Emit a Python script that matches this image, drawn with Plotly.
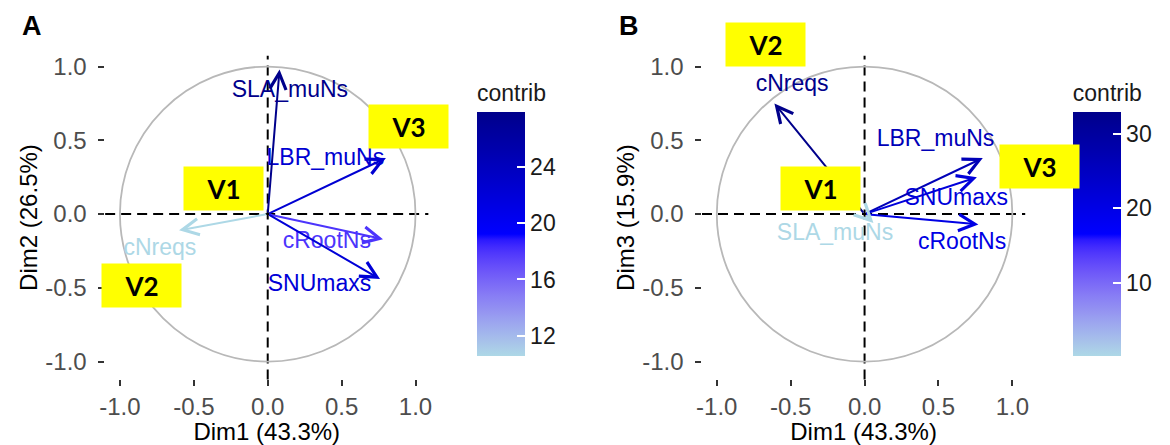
import plotly.graph_objects as go

W, H = 1170, 445

# ---------------------------------------------------------------------------
# Data
# ---------------------------------------------------------------------------
VARS_A = ["SLA_muNs", "LBR_muNs", "cRootNs", "SNUmaxs", "cNreqs"]
DIM1_A = [0.08, 0.80, 0.78, 0.76, -0.60]
DIM2_A = [0.98, 0.38, -0.17, -0.44, -0.11]
CONTRIB_A = [27.9, 22.5, 18.0, 22.1, 10.6]
LABX_A = [0.15, 0.39, 0.40, 0.35, -0.73]
LABY_A = [0.83, 0.37, -0.19, -0.48, -0.24]

VARS_B = ["cNreqs", "LBR_muNs", "SNUmaxs", "cRootNs", "SLA_muNs"]
DIM1_B = [-0.61, 0.80, 0.76, 0.77, 0.06]
DIM3_B = [0.75, 0.38, 0.25, -0.07, -0.06]
CONTRIB_B = [33.0, 26.5, 21.6, 20.2, 0.2]
LABX_B = [-0.49, 0.48, 0.62, 0.66, -0.20]
LABY_B = [0.87, 0.50, 0.10, -0.20, -0.14]

TICKS = [-1.0, -0.5, 0.0, 0.5, 1.0]
TICKTEXT = ["-1.0", "-0.5", "0.0", "0.5", "1.0"]
CB_TICKS_A = [12, 16, 20, 24]
CB_TICKS_B = [10, 20, 30]

FONT = "Liberation Sans, Arial, sans-serif"


# ---------------------------------------------------------------------------
# ggplot-like gradient (interpolated in Lab space)
# ---------------------------------------------------------------------------
def _hex_to_lab(h):
    rgb = [int(h[i:i + 2], 16) / 255 for i in (1, 3, 5)]
    r, g, b = [c / 12.92 if c <= 0.04045 else ((c + 0.055) / 1.055) ** 2.4 for c in rgb]
    X = (0.4124 * r + 0.3576 * g + 0.1805 * b) / 0.95047
    Y = 0.2126 * r + 0.7152 * g + 0.0722 * b
    Z = (0.0193 * r + 0.1192 * g + 0.9505 * b) / 1.08883
    f = lambda t: t ** (1 / 3) if t > 0.008856 else 7.787 * t + 16 / 116
    fx, fy, fz = f(X), f(Y), f(Z)
    return (116 * fy - 16, 500 * (fx - fy), 200 * (fy - fz))


def _lab_to_rgb(L, a, b):
    fy = (L + 16) / 116
    fx, fz = fy + a / 500, fy - b / 200
    finv = lambda t: t ** 3 if t ** 3 > 0.008856 else (t - 16 / 116) / 7.787
    X, Y, Z = 0.95047 * finv(fx), finv(fy), 1.08883 * finv(fz)
    r = 3.2406 * X - 1.5372 * Y - 0.4986 * Z
    g = -0.9689 * X + 1.8758 * Y + 0.0415 * Z
    bb = 0.0557 * X - 0.2040 * Y + 1.0570 * Z

    def gam(c):
        c = c * 12.92 if c <= 0.0031308 else 1.055 * c ** (1 / 2.4) - 0.055
        return max(0, min(255, round(c * 255)))
    return f"rgb({gam(r)},{gam(g)},{gam(bb)})"


ANCHORS = [_hex_to_lab(h) for h in ("#ADD8E6", "#0000FF", "#00008B")]


def grad(t):
    t = max(0.0, min(1.0, t))
    seg = min(int(t * 2), 1)
    u = t * 2 - seg
    a, b = ANCHORS[seg], ANCHORS[seg + 1]
    return _lab_to_rgb(*[a[i] + (b[i] - a[i]) * u for i in range(3)])


SCALE = [[i / 40, grad(i / 40)] for i in range(41)]

# ---------------------------------------------------------------------------
# Figure
# ---------------------------------------------------------------------------
px = lambda x: x / W
py = lambda y: 1 - y / H

XR = [-1.10, 1.087]
YR = [-1.121, 1.074]
CB_TOP, CB_BOT, CB_TITLE = 111, 355, 31   # colour bar pixel extent + title room

fig = go.Figure()


def add_panel(sfx, d1, d2, contrib, labx, laby, names, cb_left, cb_ticks):
    xa, ya = "x" + sfx, "y" + sfx
    lo, hi = min(contrib), max(contrib)
    cols = [grad((c - lo) / (hi - lo)) for c in contrib]

    fig.add_shape(type="circle", xref=xa, yref=ya, x0=-1, y0=-1, x1=1, y1=1,
                  line=dict(color="#B8B8B8", width=1.8), layer="below")
    fig.add_shape(type="line", xref=xa + " domain", yref=ya, x0=0, x1=1, y0=0, y1=0,
                  line=dict(color="black", width=2, dash="10px,6px"), layer="below")
    fig.add_shape(type="line", xref=xa, yref=ya + " domain", x0=0, x1=0, y0=0, y1=1,
                  line=dict(color="black", width=2, dash="10px,6px"), layer="below")

    for x, y, c in zip(d1, d2, cols):
        fig.add_annotation(x=x, y=y, ax=0, ay=0, xref=xa, yref=ya, axref=xa, ayref=ya,
                           text="", showarrow=True, arrowhead=5, arrowsize=1.6,
                           arrowwidth=2, arrowcolor=c, standoff=0)

    fig.add_trace(go.Scatter(
        x=labx, y=laby, mode="text", text=names, xaxis=xa, yaxis=ya,
        textfont=dict(family=FONT, size=23, color=cols), showlegend=False, hoverinfo="skip",
    ))
    # invisible tips carrying the colour scale
    ln = CB_BOT - CB_TOP + CB_TITLE
    fig.add_trace(go.Scatter(
        x=d1, y=d2, mode="markers", xaxis=xa, yaxis=ya, showlegend=False,
        marker=dict(color=contrib, colorscale=SCALE, cmin=lo, cmax=hi, opacity=0, size=2,
                    showscale=True,
                    colorbar=dict(x=px(cb_left), xanchor="left", xpad=0, ypad=0,
                                  y=py(CB_BOT), yanchor="bottom", len=ln, lenmode="pixels",
                                  thickness=48, thicknessmode="pixels", outlinewidth=0,
                                  tickvals=cb_ticks, ticks="inside", ticklen=8,
                                  tickcolor="white", tickwidth=1.5,
                                  tickprefix="\u00a0\u00a0\u00a0",
                                  tickfont=dict(family=FONT, size=23, color="#1A1A1A"),
                                  title=dict(text="contrib", side="top",
                                             font=dict(family=FONT, size=23, color="#1A1A1A")))),
        hovertemplate="%{marker.color:.1f}<extra></extra>",
    ))
    # left-hand tick marks inside the bar (ggplot draws both sides)
    for v in cb_ticks:
        yy = CB_BOT - (v - lo) / (hi - lo) * (CB_BOT - CB_TOP)
        fig.add_shape(type="line", xref="paper", yref="paper",
                      x0=px(cb_left), x1=px(cb_left + 8), y0=py(yy), y1=py(yy),
                      line=dict(color="white", width=1.5))


add_panel("", DIM1_A, DIM2_A, CONTRIB_A, LABX_A, LABY_A, VARS_A, 475, CB_TICKS_A)
add_panel("2", DIM1_B, DIM3_B, CONTRIB_B, LABX_B, LABY_B, VARS_B, 1076, CB_TICKS_B)

axis_common = dict(showgrid=False, zeroline=False, showline=False,
                   tickvals=TICKS, ticks="outside", ticklen=6,
                   tickwidth=2, tickcolor="#333333",
                   tickfont=dict(family=FONT, size=24, color="#4D4D4D"))


def xaxis(dom, anchor):
    return dict(axis_common, domain=dom, range=XR, anchor=anchor, ticktext=TICKTEXT,
                title=dict(text="Dim1 (43.3%)", standoff=5,
                           font=dict(family=FONT, size=24, color="black")))


def yaxis(title, anchor):
    return dict(axis_common, domain=[py(379), py(53)], range=YR, anchor=anchor,
                ticktext=[t + "\u00a0" for t in TICKTEXT],
                title=dict(text=title, standoff=0,
                           font=dict(family=FONT, size=24, color="black")))


fig.update_layout(
    width=W, height=H,
    margin=dict(l=0, r=0, t=0, b=0),
    paper_bgcolor="white", plot_bgcolor="white",
    font=dict(family=FONT),
    xaxis=xaxis([px(100), px(426)], "y"),
    yaxis=yaxis("Dim2 (26.5%)", "x"),
    xaxis2=xaxis([px(702), px(1028)], "y2"),
    yaxis2=yaxis("Dim3 (15.9%)", "x2"),
)

# panel letters
for lab, x in (("A", 26), ("B", 628)):
    fig.add_annotation(xref="paper", yref="paper", x=px(x), y=py(23), text=f"<b>{lab}</b>",
                       xanchor="center", yanchor="middle", showarrow=False,
                       font=dict(family=FONT, size=27, color="black"))

# yellow highlight boxes
BOXES = [("V1", 219, 186.5), ("V2", 136.5, 284), ("V3", 406, 124.5),
         ("V1", 821.5, 186.5), ("V2", 766, 42), ("V3", 1042.5, 165)]
for txt, cx, cy in BOXES:
    fig.add_annotation(xref="paper", yref="paper", x=px(cx), y=py(cy), text=f"<b>{txt}</b>",
                       xanchor="center", yanchor="middle",
                       showarrow=False, bgcolor="#FFFF00", width=79, height=43, borderpad=0,
                       font=dict(family="Lato, sans-serif", size=26, color="black"))

fig.write_html("out.html", config={"displayModeBar": False},
               post_script="document.body.style.margin='0';")
